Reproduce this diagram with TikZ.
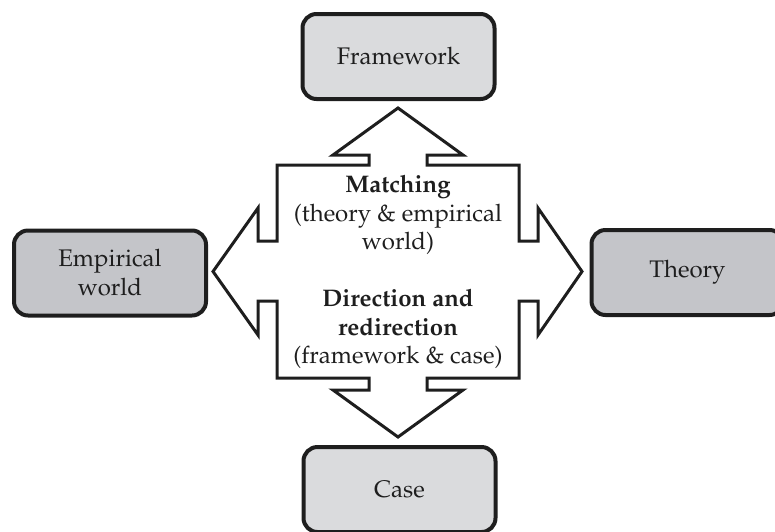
\documentclass[tikz,border=0pt]{standalone}
\usepackage[T1]{fontenc}
\usepackage{mathpazo}
\usepackage{tikz}
\usetikzlibrary{positioning}

\definecolor{boxlight}{RGB}{218,219,221}
\definecolor{boxdark}{RGB}{196,197,201}
\definecolor{inkgray}{RGB}{30,30,30}

\begin{document}
\begin{tikzpicture}[
    x=0.5pt,y=-0.5pt,
    box/.style={draw=inkgray,line width=2pt,rounded corners=7pt,
      minimum width=96pt,minimum height=42.5pt,align=center,
      text=inkgray,font=\fontsize{12}{14.5}\selectfont},
    crossarrow/.style={draw=inkgray,line width=1.5pt,fill=white,line join=miter},
    hubtext/.style={align=center,text=inkgray,font=\fontsize{12}{14.25}\selectfont}]
  \useasboundingbox (0,0) rectangle (775,531);
  % outer boxes
  \node[box,fill=boxlight] (framework) at (398.5,56.5) {Framework};
  \node[box,fill=boxdark] (empirical) at (110,273) {Empirical\\world};
  \node[box,fill=boxdark] (theory) at (687.5,272.5) {Theory};
  \node[box,fill=boxlight] (case) at (399.5,489.5) {Case};
  % four-way arrow in the middle
  \draw[crossarrow] (277,165) -- (369,165) -- (369,155) -- (333,155) -- (398,108)
    -- (463,155) -- (427,155) -- (427,165) -- (519,165) -- (519,241) -- (538,241)
    -- (538,208) -- (582,271.5) -- (538,335) -- (538,301) -- (519,301) -- (519,378)
    -- (427,378) -- (427,390) -- (463,390) -- (398,437) -- (333,390) -- (369,390)
    -- (369,378) -- (277,378) -- (277,301) -- (258,301) -- (258,335) -- (213,271.5)
    -- (258,208) -- (258,241) -- (277,241) -- cycle;
  \node[hubtext] (hub) at (398,272) {\textbf{Matching}\\(theory \& empirical\\world)\\[14.25pt]
    \textbf{Direction and}\\\textbf{redirection}\\(framework \& case)};
\end{tikzpicture}
\end{document}
